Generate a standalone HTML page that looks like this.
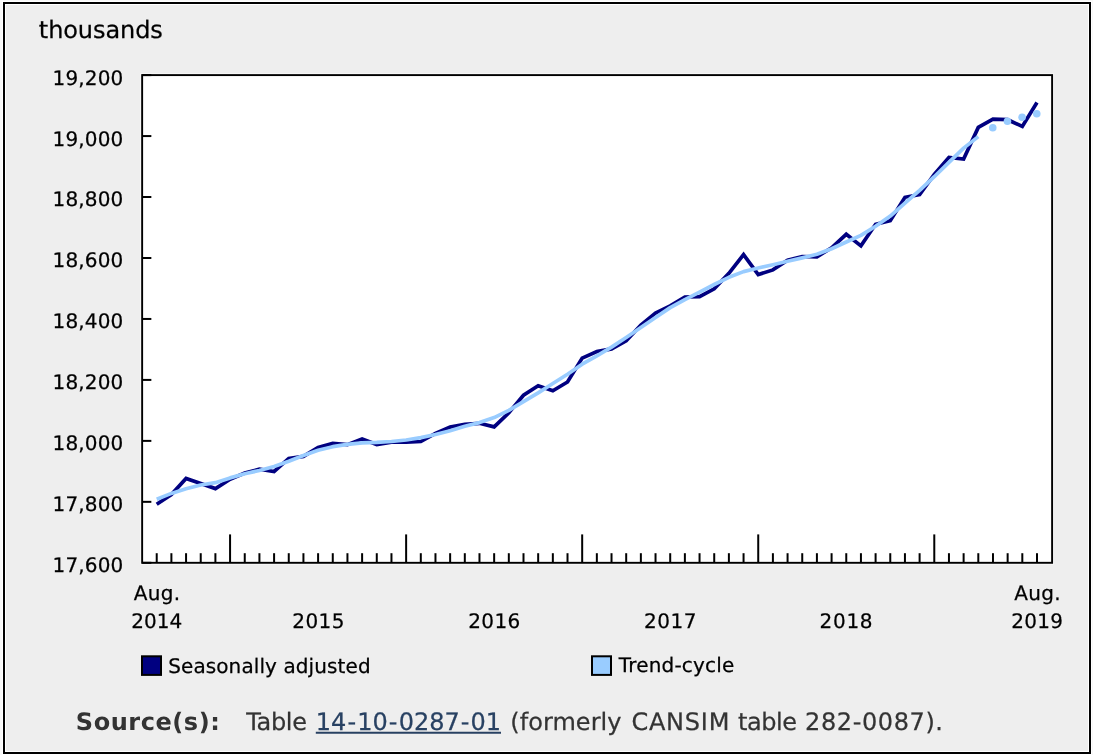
<!DOCTYPE html>
<html lang="en">
<head>
<meta charset="utf-8">
<title>Employment</title>
<style>
html,body{margin:0;padding:0;background:#f8f8f8;}
body{width:1093px;height:755px;overflow:hidden;}
svg{display:block;}
svg text{font-family:"DejaVu Sans","Verdana","Liberation Sans",sans-serif;text-rendering:geometricPrecision;}
.s20{font-size:20px;fill:#000;stroke:#000;stroke-width:0.25px;}
.s24{font-size:24px;fill:#000;stroke:#000;stroke-width:0.25px;}
.src{font-size:24px;fill:#333;stroke:#333;stroke-width:0.25px;}
.srcb{font-size:24px;fill:#333;font-weight:bold;}
.lnk{font-size:24px;fill:#284162;stroke:#284162;stroke-width:0.25px;}
</style>
</head>
<body>
<svg width="1093" height="755" viewBox="0 0 1093 755">
<rect x="0" y="0" width="1093" height="755" fill="#f8f8f8"/>
<rect x="2.5" y="1.5" width="1089" height="753" fill="none" stroke="#fff" stroke-width="1"/>
<rect x="4" y="3" width="1086" height="750" fill="#eeeeee" stroke="#000" stroke-width="2"/>
<rect x="5.5" y="4.5" width="1083" height="747" fill="none" stroke="#fff" stroke-width="1"/>
<rect x="140.65" y="73.60" width="912.95" height="490.70" fill="none" stroke="#fff" stroke-opacity="0.55" stroke-width="1"/>
<rect x="142.15" y="75.1" width="909.95" height="487.70" fill="#fff" stroke="#000" stroke-width="1.9"/>
<g stroke="#000" stroke-width="2">
<line x1="142.15" y1="75.10" x2="151.35" y2="75.10"/>
<line x1="142.15" y1="136.06" x2="151.35" y2="136.06"/>
<line x1="142.15" y1="197.02" x2="151.35" y2="197.02"/>
<line x1="142.15" y1="257.99" x2="151.35" y2="257.99"/>
<line x1="142.15" y1="318.95" x2="151.35" y2="318.95"/>
<line x1="142.15" y1="379.91" x2="151.35" y2="379.91"/>
<line x1="142.15" y1="440.88" x2="151.35" y2="440.88"/>
<line x1="142.15" y1="501.84" x2="151.35" y2="501.84"/>
<line x1="142.15" y1="562.80" x2="151.35" y2="562.80"/>
<line x1="156.72" y1="562.8" x2="156.72" y2="553.20"/>
<line x1="171.39" y1="562.8" x2="171.39" y2="553.20"/>
<line x1="186.06" y1="562.8" x2="186.06" y2="553.20"/>
<line x1="200.73" y1="562.8" x2="200.73" y2="553.20"/>
<line x1="215.40" y1="562.8" x2="215.40" y2="553.20"/>
<line x1="230.07" y1="562.8" x2="230.07" y2="534.40"/>
<line x1="244.75" y1="562.8" x2="244.75" y2="553.20"/>
<line x1="259.42" y1="562.8" x2="259.42" y2="553.20"/>
<line x1="274.09" y1="562.8" x2="274.09" y2="553.20"/>
<line x1="288.76" y1="562.8" x2="288.76" y2="553.20"/>
<line x1="303.43" y1="562.8" x2="303.43" y2="553.20"/>
<line x1="318.10" y1="562.8" x2="318.10" y2="553.20"/>
<line x1="332.77" y1="562.8" x2="332.77" y2="553.20"/>
<line x1="347.44" y1="562.8" x2="347.44" y2="553.20"/>
<line x1="362.11" y1="562.8" x2="362.11" y2="553.20"/>
<line x1="376.78" y1="562.8" x2="376.78" y2="553.20"/>
<line x1="391.46" y1="562.8" x2="391.46" y2="553.20"/>
<line x1="406.13" y1="562.8" x2="406.13" y2="534.40"/>
<line x1="420.80" y1="562.8" x2="420.80" y2="553.20"/>
<line x1="435.47" y1="562.8" x2="435.47" y2="553.20"/>
<line x1="450.14" y1="562.8" x2="450.14" y2="553.20"/>
<line x1="464.81" y1="562.8" x2="464.81" y2="553.20"/>
<line x1="479.48" y1="562.8" x2="479.48" y2="553.20"/>
<line x1="494.15" y1="562.8" x2="494.15" y2="553.20"/>
<line x1="508.82" y1="562.8" x2="508.82" y2="553.20"/>
<line x1="523.50" y1="562.8" x2="523.50" y2="553.20"/>
<line x1="538.17" y1="562.8" x2="538.17" y2="553.20"/>
<line x1="552.84" y1="562.8" x2="552.84" y2="553.20"/>
<line x1="567.51" y1="562.8" x2="567.51" y2="553.20"/>
<line x1="582.18" y1="562.8" x2="582.18" y2="534.40"/>
<line x1="596.85" y1="562.8" x2="596.85" y2="553.20"/>
<line x1="611.52" y1="562.8" x2="611.52" y2="553.20"/>
<line x1="626.19" y1="562.8" x2="626.19" y2="553.20"/>
<line x1="640.86" y1="562.8" x2="640.86" y2="553.20"/>
<line x1="655.53" y1="562.8" x2="655.53" y2="553.20"/>
<line x1="670.21" y1="562.8" x2="670.21" y2="553.20"/>
<line x1="684.88" y1="562.8" x2="684.88" y2="553.20"/>
<line x1="699.55" y1="562.8" x2="699.55" y2="553.20"/>
<line x1="714.22" y1="562.8" x2="714.22" y2="553.20"/>
<line x1="728.89" y1="562.8" x2="728.89" y2="553.20"/>
<line x1="743.56" y1="562.8" x2="743.56" y2="553.20"/>
<line x1="758.23" y1="562.8" x2="758.23" y2="534.40"/>
<line x1="772.90" y1="562.8" x2="772.90" y2="553.20"/>
<line x1="787.57" y1="562.8" x2="787.57" y2="553.20"/>
<line x1="802.24" y1="562.8" x2="802.24" y2="553.20"/>
<line x1="816.91" y1="562.8" x2="816.91" y2="553.20"/>
<line x1="831.59" y1="562.8" x2="831.59" y2="553.20"/>
<line x1="846.26" y1="562.8" x2="846.26" y2="553.20"/>
<line x1="860.93" y1="562.8" x2="860.93" y2="553.20"/>
<line x1="875.60" y1="562.8" x2="875.60" y2="553.20"/>
<line x1="890.27" y1="562.8" x2="890.27" y2="553.20"/>
<line x1="904.94" y1="562.8" x2="904.94" y2="553.20"/>
<line x1="919.61" y1="562.8" x2="919.61" y2="553.20"/>
<line x1="934.28" y1="562.8" x2="934.28" y2="534.40"/>
<line x1="948.95" y1="562.8" x2="948.95" y2="553.20"/>
<line x1="963.62" y1="562.8" x2="963.62" y2="553.20"/>
<line x1="978.30" y1="562.8" x2="978.30" y2="553.20"/>
<line x1="992.97" y1="562.8" x2="992.97" y2="553.20"/>
<line x1="1007.64" y1="562.8" x2="1007.64" y2="553.20"/>
<line x1="1022.31" y1="562.8" x2="1022.31" y2="553.20"/>
<line x1="1036.98" y1="562.8" x2="1036.98" y2="553.20"/>
</g>
<text x="52.5" y="84.70" class="s20" letter-spacing="0.17">19,200</text>
<text x="52.5" y="145.55" class="s20" letter-spacing="0.17">19,000</text>
<text x="52.5" y="206.40" class="s20" letter-spacing="0.17">18,800</text>
<text x="52.5" y="267.25" class="s20" letter-spacing="0.17">18,600</text>
<text x="52.5" y="328.10" class="s20" letter-spacing="0.17">18,400</text>
<text x="52.5" y="388.95" class="s20" letter-spacing="0.17">18,200</text>
<text x="52.5" y="449.80" class="s20" letter-spacing="0.17">18,000</text>
<text x="52.5" y="510.65" class="s20" letter-spacing="0.17">17,800</text>
<text x="52.5" y="571.50" class="s20" letter-spacing="0.17">17,600</text>
<text x="38.8" y="37.5" class="s24" letter-spacing="-0.08">thousands</text>
<text x="133.65" y="599.8" class="s20" letter-spacing="0.333">Aug.</text>
<text x="131.25" y="627.8" class="s20" letter-spacing="0.051">2014</text>
<text x="292.25" y="627.8" class="s20" letter-spacing="0.401">2015</text>
<text x="468.25" y="627.8" class="s20" letter-spacing="0.35">2016</text>
<text x="644.1" y="627.8" class="s20" letter-spacing="0.516">2017</text>
<text x="819.6" y="627.8" class="s20" letter-spacing="0.667">2018</text>
<text x="1014.15" y="599.8" class="s20" letter-spacing="0.333">Aug.</text>
<text x="1011.3" y="627.8" class="s20" letter-spacing="0.234">2019</text>
<polyline points="156.72,504.3 171.39,494.5 186.06,478.5 200.73,483.6 215.40,488.6 230.07,479.3 244.75,473.0 259.42,469.2 274.09,471.5 288.76,458.4 303.43,456.4 318.10,447.5 332.77,443.4 347.44,444.6 362.11,438.9 376.78,444.5 391.46,442.1 406.13,442.2 420.80,441.5 435.47,433.4 450.14,427.1 464.81,424.3 479.48,423.3 494.15,426.9 508.82,412.8 523.50,395.2 538.17,385.7 552.84,390.8 567.51,382.0 582.18,358.1 596.85,351.6 611.52,348.9 626.19,340.8 640.86,325.1 655.53,313.0 670.21,305.9 684.88,297.0 699.55,296.7 714.22,288.8 728.89,273.4 743.56,254.6 758.23,274.5 772.90,269.9 787.57,260.1 802.24,256.5 816.91,256.8 831.59,247.8 846.26,234.3 860.93,245.9 875.60,224.3 890.27,220.7 904.94,197.3 919.61,194.5 934.28,174.4 948.95,157.4 963.62,159.0 978.30,127.4 992.97,119.2 1007.64,119.7 1022.31,126.5 1036.98,102.5" fill="none" stroke="#000080" stroke-width="3.7" stroke-linejoin="miter" stroke-miterlimit="10"/>
<polyline points="156.72,499.3 171.39,493.4 186.06,488.8 200.73,485.0 215.40,482.7 230.07,477.9 244.75,473.8 259.42,470.5 274.09,466.5 288.76,461.3 303.43,455.5 318.10,450.2 332.77,446.7 347.44,444.4 362.11,442.9 376.78,442.4 391.46,441.5 406.13,440.0 420.80,437.6 435.47,434.5 450.14,430.7 464.81,426.3 479.48,422.6 494.15,417.6 508.82,410.4 523.50,401.7 538.17,392.9 552.84,383.5 567.51,374.2 582.18,364.2 596.85,355.8 611.52,347.1 626.19,337.5 640.86,327.5 655.53,317.4 670.21,307.6 684.88,299.6 699.55,292.1 714.22,284.5 728.89,277.3 743.56,271.6 758.23,268.0 772.90,264.7 787.57,261.2 802.24,257.9 816.91,254.3 831.59,248.8 846.26,242.0 860.93,235.4 875.60,226.3 890.27,216.1 904.94,203.1 919.61,190.3 934.28,176.7 948.95,162.4 963.62,148.1 978.30,136.6" fill="none" stroke="#99ccff" stroke-width="3.7" stroke-linejoin="round"/>
<circle cx="992.77" cy="127.8" r="3.8" fill="#99ccff"/>
<circle cx="1007.44" cy="121.2" r="3.8" fill="#99ccff"/>
<circle cx="1022.11" cy="117.3" r="3.8" fill="#99ccff"/>
<circle cx="1036.78" cy="113.7" r="3.8" fill="#99ccff"/>
<rect x="142" y="656.3" width="19" height="18.6" fill="#000080" stroke="#000" stroke-width="2"/>
<text x="168.2" y="672.5" class="s20" letter-spacing="0.102">Seasonally adjusted</text>
<rect x="592" y="656.3" width="19" height="18.6" fill="#99ccff" stroke="#000" stroke-width="2"/>
<text x="618.8" y="672.4" class="s20" letter-spacing="0.175">Trend-cycle</text>
<text x="75.85" y="729.5" class="srcb" letter-spacing="0.545">Source(s):</text>
<text x="246.25" y="729.5" class="src" letter-spacing="-0.336">Table</text>
<a href="#t"><text x="315.80 331.06 347.44 357.22 372.48 388.86 398.64 413.90 429.16 444.42 460.80 470.58 485.84" y="729.5" class="lnk">14-10-0287-01</text></a>
<line x1="315.8" y1="732.85" x2="501" y2="732.85" stroke="#284162" stroke-width="2"/>
<text x="510.3" y="729.5" class="src" letter-spacing="0.049">(formerly</text>
<text x="631.4" y="729.5" class="src" letter-spacing="0.77">CANSIM</text>
<text x="738.0" y="729.5" class="src" letter-spacing="-0.464">table</text>
<text x="805.05" y="729.5" class="src" letter-spacing="0.601">282-0087).</text>
</svg>
</body>
</html>
